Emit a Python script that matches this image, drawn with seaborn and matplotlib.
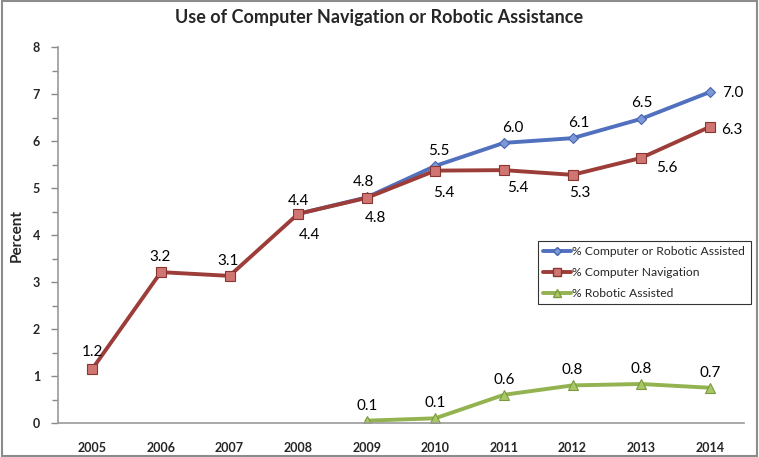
import matplotlib
matplotlib.use('Agg')
import matplotlib.pyplot as plt
from matplotlib.lines import Line2D
from matplotlib.patches import Rectangle
from matplotlib.ticker import MultipleLocator
import numpy as np
import seaborn as sns

years = [2005, 2006, 2007, 2008, 2009, 2010, 2011, 2012, 2013, 2014]
computer_or_robotic = [np.nan, np.nan, np.nan, 4.45, 4.8, 5.47, 5.96, 6.06, 6.47, 7.04]
computer_nav = [1.15, 3.21, 3.13, 4.45, 4.79, 5.37, 5.38, 5.28, 5.64, 6.3]
robotic = [np.nan, np.nan, np.nan, np.nan, 0.05, 0.1, 0.6, 0.8, 0.83, 0.75]

labels_blue = [None, None, None, '4.4', '4.8', '5.5', '6.0', '6.1', '6.5', '7.0']
labels_red = ['1.2', '3.2', '3.1', '4.4', '4.8', '5.4', '5.4', '5.3', '5.6', '6.3']
labels_green = [None, None, None, None, '0.1', '0.1', '0.6', '0.8', '0.8', '0.7']

series_names = ['% Computer or Robotic Assisted', '% Computer Navigation', '% Robotic Assisted']

blue, blue_fill = '#5171BF', '#7C98D8'
red, red_fill = '#9C3D39', '#CF7672'
green, green_fill = '#93B250', '#A8C865'

sns.set_style('white')
plt.rcParams['font.family'] = ['Lato', 'DejaVu Sans']

fig = plt.figure(figsize=(7.59, 4.57), dpi=100)
ax = fig.add_axes([58 / 759, 1 - 423 / 457, (744 - 58) / 759, (423 - 47) / 457])

sns.lineplot(x=years, y=robotic, ax=ax, color=green, lw=2.8, marker='^', ms=7,
             mfc=green_fill, mec='#7D9A40', mew=0.8)
sns.lineplot(x=years, y=computer_or_robotic, ax=ax, color=blue, lw=2.8, marker='D', ms=5,
             mfc=blue_fill, mec='#4763AD', mew=0.8)
sns.lineplot(x=years, y=computer_nav, ax=ax, color=red, lw=2.8, marker='s', ms=7,
             mfc=red_fill, mec='#8A3532', mew=0.8)

# label offsets in pixels (dx, dy)
off_blue = [None, None, None, (0, 13), (-3, 15), (3, 15), (9, 15), (6, 15), (1, 16), (23, -1)]
off_red = [(0, 17), (-1, 15), (-1, 15), (11, -21), (9, -20), (8, -22), (14, -18), (7, -18), (26, -10), (22, -3)]
off_green = [None, None, None, None, (0, 15), (0, 15), (0, 15), (0, 15), (0, 15), (0, 15)]

for vals, labs, offs in [(computer_or_robotic, labels_blue, off_blue),
                         (computer_nav, labels_red, off_red),
                         (robotic, labels_green, off_green)]:
    for x, v, lab, o in zip(years, vals, labs, offs):
        if lab is None:
            continue
        ax.annotate(lab, (x, v), xytext=o, textcoords='offset pixels',
                    ha='center', va='center', fontsize=11, color='black')

ax.set_xlim(2004.5, 2014.5)
ax.set_ylim(0, 8)
ax.set_xticks(years)
ax.set_xticklabels([str(y) for y in years])
ax.yaxis.set_major_locator(MultipleLocator(1))
ax.yaxis.set_minor_locator(MultipleLocator(0.5))
ax.tick_params(axis='y', which='major', left=True, length=5, color='#888888', width=1,
               labelsize=9, pad=8)
ax.tick_params(axis='y', which='minor', left=True, length=4, color='#888888', width=1)
ax.tick_params(axis='x', bottom=False, labelsize=9, pad=10)
for t in ax.get_xticklabels() + ax.get_yticklabels():
    t.set_fontweight('bold')

for s in ['top', 'right']:
    ax.spines[s].set_visible(False)
for s in ['left', 'bottom']:
    ax.spines[s].set_color('#999999')
    ax.spines[s].set_linewidth(1.2)

ax.set_ylabel('Percent', fontsize=11, fontweight='bold', labelpad=6)
ax.set_xlabel('')
fig.text(0.5, 1 - 18 / 457, 'Use of Computer Navigation or Robotic Assistance',
         ha='center', va='center', fontsize=13, fontweight='bold')

handles = [
    Line2D([], [], color=blue, lw=2.8, marker='D', ms=4.5, mfc=blue_fill, mec='#4763AD'),
    Line2D([], [], color=red, lw=2.8, marker='s', ms=6, mfc=red_fill, mec='#8A3532'),
    Line2D([], [], color=green, lw=2.8, marker='^', ms=5.5, mfc=green_fill, mec='#7D9A40'),
]
leg = ax.legend(handles, series_names, loc='upper left',
                bbox_to_anchor=(538 / 759, 1 - 241 / 457), bbox_transform=fig.transFigure,
                fontsize=8.7, frameon=True, fancybox=False, handlelength=2.3,
                handletextpad=0.1, borderpad=0.45, labelspacing=0.8, borderaxespad=0)
leg.get_frame().set_edgecolor('black')
leg.get_frame().set_linewidth(0.8)

fig.patches.append(Rectangle((0.002, 0.003), 0.996, 0.994, transform=fig.transFigure,
                             fill=False, edgecolor='#8c8c8c', lw=1.5))

plt.savefig('out.png', dpi=100)
plt.close()
